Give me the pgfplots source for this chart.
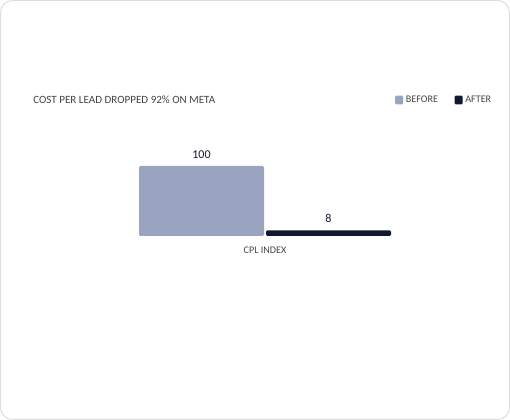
\documentclass[border=0pt]{standalone}
\usepackage{fontspec}
\setmainfont{Carlito}
\usepackage{pgfplots}
\pgfplotsset{compat=1.18}

\definecolor{before}{HTML}{9AA3BF}
\definecolor{after}{HTML}{111833}
\definecolor{txt}{HTML}{454545}
\definecolor{card}{HTML}{DEDEDE}

% 1px = 0.75pt, y measured from the bottom of the 510x420 card
\begin{document}
\begin{tikzpicture}[x=0.75pt,y=0.75pt]
  \useasboundingbox (0,0) rectangle (510,420);
  \draw[card, line width=0.75pt, rounded corners=9pt] (0.5,0.5) rectangle (509.5,419.5);
  \node[anchor=west, inner sep=0pt, text=txt, font=\fontsize{8.3pt}{10pt}\selectfont] at (33,320)
    {COST PER LEAD DROPPED 92\% ON META};

  \begin{axis}[
    at={(103.5pt,138pt)}, anchor=south west,
    scale only axis, width=190.5pt, height=52.5pt,
    xmin=-1, xmax=1, ymin=0, ymax=100,
    clip=false,
    axis line style={draw=none},
    ytick=\empty,
    xtick={0}, xticklabels={CPL INDEX},
    major tick length=0pt,
    xticklabel style={text=txt, font=\fontsize{7.6pt}{9pt}\selectfont, yshift=-4.5pt},
    ybar=1.5pt, bar width=93.75pt,
    nodes near coords,
    /pgf/number format/assume math mode=true,
    every node near coord/.append style={text=after, font=\fontsize{9pt}{10pt}\selectfont, yshift=2.2pt},
    legend columns=2,
    legend style={at={(1.418,1.943)}, anchor=east, draw=none, fill=none,
      font=\fontsize{7.6pt}{9pt}\selectfont, text=txt,
      /tikz/every even column/.append style={column sep=10.5pt}},
    legend image code/.code={\fill[#1, rounded corners=0.8pt] (0pt,-3.2pt) rectangle (6pt,3.2pt);},
  ]
    \addplot[fill=before, draw=none, rounded corners=1pt] coordinates {(0,100)};
    \addplot[fill=after, draw=none, rounded corners=1pt] coordinates {(0,8)};
    \legend{BEFORE, AFTER}
  \end{axis}
\end{tikzpicture}
\end{document}
